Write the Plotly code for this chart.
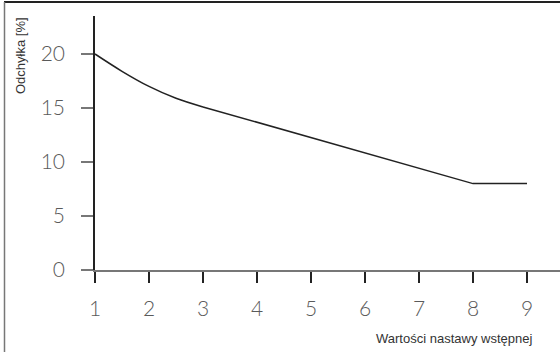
import plotly.graph_objects as go

# Deviation curve vs. presetting value: a bend up to 3, then straight lines
bend_x = [1, 1.5, 2, 2.5, 3]
bend_y = [20, 18.4, 17.0, 15.9, 15.1]
straight_x = [3, 8, 9]
straight_y = [15.1, 8, 8]

x_ticks = [1, 2, 3, 4, 5, 6, 7, 8, 9]
y_ticks = [0, 5, 10, 15, 20]

x_title = "Wartości nastawy wstępnej"
y_title = "Odchyłka [%]"

W, H = 560, 352
L, R, T, B = 95, 0, 16, 82
PW, PH = W - L - R, H - B - T
x_range = [1, 1 + PW / 54.0]
y_range = [0, PH / 10.8]

tick_font = dict(family="Lato, 'Noto Sans', sans-serif", size=21, color="#5a5a5a", weight=300)
title_font = dict(family="'Liberation Sans', Arial, sans-serif", size=13, color="#333333")
line_style = dict(color="#222222", width=1.5)

fig = go.Figure()
fig.add_trace(go.Scatter(
    x=bend_x, y=bend_y, mode="lines",
    line=dict(shape="spline", smoothing=1.0, **line_style),
    cliponaxis=False, hoverinfo="skip", showlegend=False,
))
fig.add_trace(go.Scatter(
    x=straight_x, y=straight_y, mode="lines",
    line=dict(shape="linear", **line_style),
    cliponaxis=False, hoverinfo="skip", showlegend=False,
))


def px_x(p):
    return (p - L) / PW


def px_y(p):
    return (H - B - p) / PH


fig.update_layout(
    width=W, height=H,
    margin=dict(l=L, r=R, t=T, b=B, pad=0),
    paper_bgcolor="white", plot_bgcolor="white",
    xaxis=dict(
        range=x_range, tickvals=x_ticks, ticktext=[str(v) for v in x_ticks],
        showgrid=False, zeroline=False,
        showline=True, linecolor="#777777", linewidth=1.5,
        ticks="outside", ticklen=11, tickwidth=1.5, tickcolor="#222222",
        tickfont=tick_font, ticklabelstandoff=8,
    ),
    yaxis=dict(
        range=y_range, tickvals=y_ticks, ticktext=[str(v) for v in y_ticks],
        showgrid=False, zeroline=False,
        showline=True, linecolor="#222222", linewidth=1.5,
        ticks="outside", ticklen=12, tickwidth=1.5, tickcolor="#777777",
        tickfont=tick_font, ticklabelstandoff=12,
    ),
    shapes=[
        # frame: top edge and left edge
        dict(type="line", xref="paper", yref="paper",
             x0=px_x(4), x1=1.0, y0=px_y(2), y1=px_y(2),
             line=dict(color="#222222", width=2)),
        dict(type="line", xref="paper", yref="paper",
             x0=px_x(4.5), x1=px_x(4.5), y0=px_y(H), y1=px_y(2),
             line=dict(color="#777777", width=1.5)),
    ],
    annotations=[
        dict(text=y_title, xref="paper", yref="paper",
             x=px_x(20), y=px_y(56),
             textangle=-90, showarrow=False, font=title_font,
             xanchor="center", yanchor="middle"),
        dict(text=x_title, xref="paper", yref="paper",
             x=px_x(534), y=px_y(338),
             showarrow=False, font=title_font,
             xanchor="right", yanchor="middle"),
    ],
)

fig.write_html("out.html")
